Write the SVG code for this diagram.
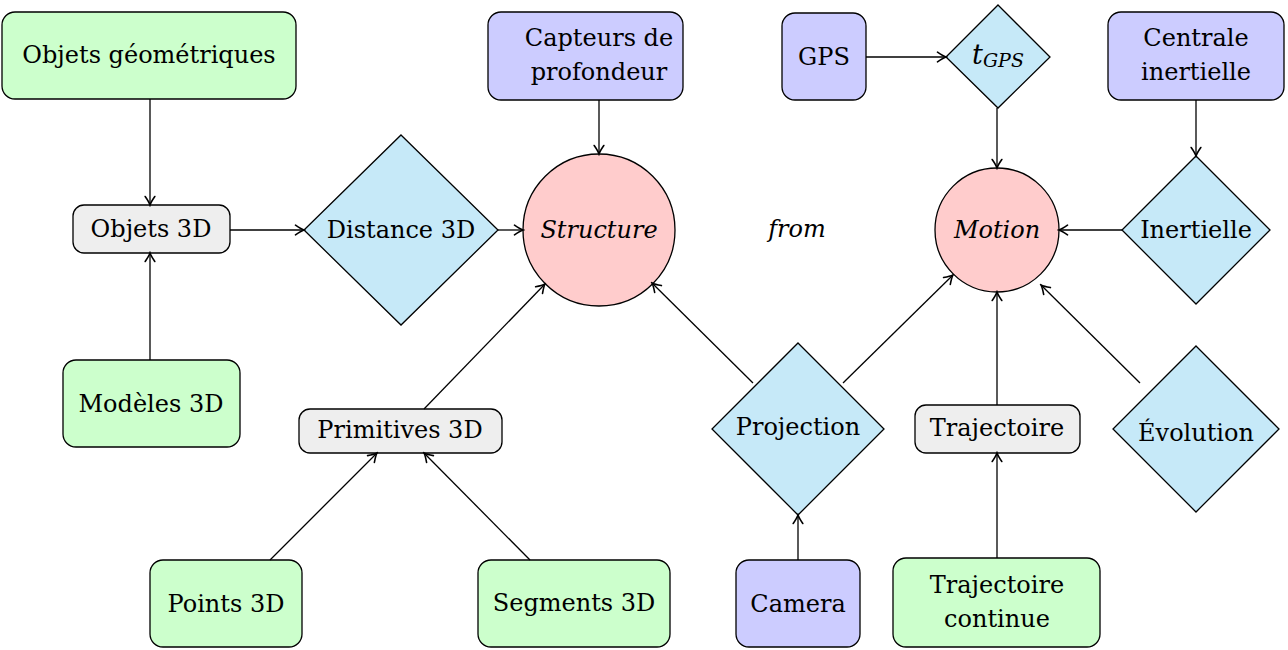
<svg xmlns="http://www.w3.org/2000/svg" width="1288" height="650" viewBox="0 0 1288 650">
<defs>
<marker id="arr" viewBox="-10 -6 12 12" markerWidth="12" markerHeight="12" refX="0" refY="0" orient="auto" markerUnits="userSpaceOnUse">
<path d="M-8.5,-4.8 Q-3,-1 0,0 Q-3,1 -8.5,4.8" fill="none" stroke="#000" stroke-width="1.6" stroke-linecap="round"/>
</marker>
<style>
.g{fill:#ccffcc;stroke:#000;stroke-width:1.3}
.p{fill:#ccccff;stroke:#000;stroke-width:1.3}
.b{fill:#c6e9f8;stroke:#000;stroke-width:1.3}
.r{fill:#ffcccc;stroke:#000;stroke-width:1.3}
.y{fill:#eeeeee;stroke:#000;stroke-width:1.3}
text{fill:#000;text-anchor:middle;dominant-baseline:central}
.it{font-style:italic}
.c line{stroke:#000;stroke-width:1.3;marker-end:url(#arr)}
</style>
</defs>
<rect width="1288" height="650" fill="#fff"/>
<g font-family="'DejaVu Serif', 'Liberation Serif', serif" font-size="24">
<g id="objgeo"><rect class="g" x="2" y="12" width="294" height="87" rx="13"/><text x="149" y="55">Objets géométriques</text></g>
<g id="capteurs"><rect class="p" x="488" y="12" width="195" height="88" rx="13"/><text x="599" y="38">Capteurs de</text><text x="599" y="72">profondeur</text></g>
<g id="gps"><rect class="p" x="782" y="13" width="84" height="87" rx="13"/><text x="824" y="57">GPS</text></g>
<g id="tgps"><polygon class="b" points="998,5 1050,57 998,108 946,57"/><text x="998" y="54" class="it" font-size="27">t<tspan font-size="19" dy="6">GPS</tspan></text></g>
<g id="centrale"><rect class="p" x="1108" y="12" width="176" height="88" rx="13"/><text x="1196" y="38">Centrale</text><text x="1196" y="72">inertielle</text></g>
<g id="obj3d"><rect class="y" x="73" y="205" width="157" height="48" rx="11"/><text x="151" y="229">Objets 3D</text></g>
<g id="dist3d"><polygon class="b" points="401,135 498,230 401,325 304,230"/><text x="401" y="230">Distance 3D</text></g>
<g id="structure"><circle class="r" cx="599" cy="230" r="76"/><text x="599" y="230" class="it">Structure</text></g>
<g id="from"><text x="797" y="229" class="it">from</text></g>
<g id="motion"><circle class="r" cx="997" cy="230" r="62"/><text x="997" y="230" class="it">Motion</text></g>
<g id="inertielle"><polygon class="b" points="1196,156 1270,230 1196,304 1122,230"/><text x="1196" y="230">Inertielle</text></g>
<g id="modeles"><rect class="g" x="63" y="360" width="177" height="87" rx="13"/><text x="151" y="404">Modèles 3D</text></g>
<g id="prim3d"><rect class="y" x="299" y="409" width="203" height="44" rx="11"/><text x="400" y="430">Primitives 3D</text></g>
<g id="projection"><polygon class="b" points="798,343 884,429 798,515 712,429"/><text x="798" y="427">Projection</text></g>
<g id="trajectoire"><rect class="y" x="915" y="405" width="165" height="48" rx="11"/><text x="997" y="428">Trajectoire</text></g>
<g id="evolution"><polygon class="b" points="1196,346 1279,429 1196,512 1113,429"/><text x="1196" y="433">Évolution</text></g>
<g id="points"><rect class="g" x="150" y="560" width="152" height="87" rx="13"/><text x="226" y="604">Points 3D</text></g>
<g id="segments"><rect class="g" x="478" y="560" width="192" height="87" rx="13"/><text x="574" y="603">Segments 3D</text></g>
<g id="camera"><rect class="p" x="736" y="560" width="124" height="87" rx="13"/><text x="798" y="604">Camera</text></g>
<g id="trajcont"><rect class="g" x="893" y="558" width="207" height="89" rx="13"/><text x="997" y="585">Trajectoire</text><text x="997" y="619">continue</text></g>
</g>
<g class="c" id="connectors">
<line x1="150" y1="99" x2="150" y2="205"/>
<line x1="150" y1="360" x2="150" y2="253"/>
<line x1="230" y1="230" x2="304" y2="230"/>
<line x1="498" y1="230" x2="523" y2="230"/>
<line x1="599" y1="100" x2="599" y2="154"/>
<line x1="424" y1="409" x2="545" y2="284"/>
<line x1="270" y1="560" x2="377" y2="453"/>
<line x1="530" y1="560" x2="424" y2="453"/>
<line x1="753" y1="383" x2="652" y2="283"/>
<line x1="843" y1="383" x2="953" y2="275"/>
<line x1="798" y1="560" x2="798" y2="515"/>
<line x1="997" y1="405" x2="997" y2="292"/>
<line x1="997" y1="558" x2="997" y2="453"/>
<line x1="1140" y1="383" x2="1041" y2="285"/>
<line x1="1122" y1="230" x2="1059" y2="230"/>
<line x1="1196" y1="100" x2="1196" y2="156"/>
<line x1="866" y1="57" x2="946" y2="57"/>
<line x1="997" y1="108" x2="997" y2="168"/>
</g>
</svg>
